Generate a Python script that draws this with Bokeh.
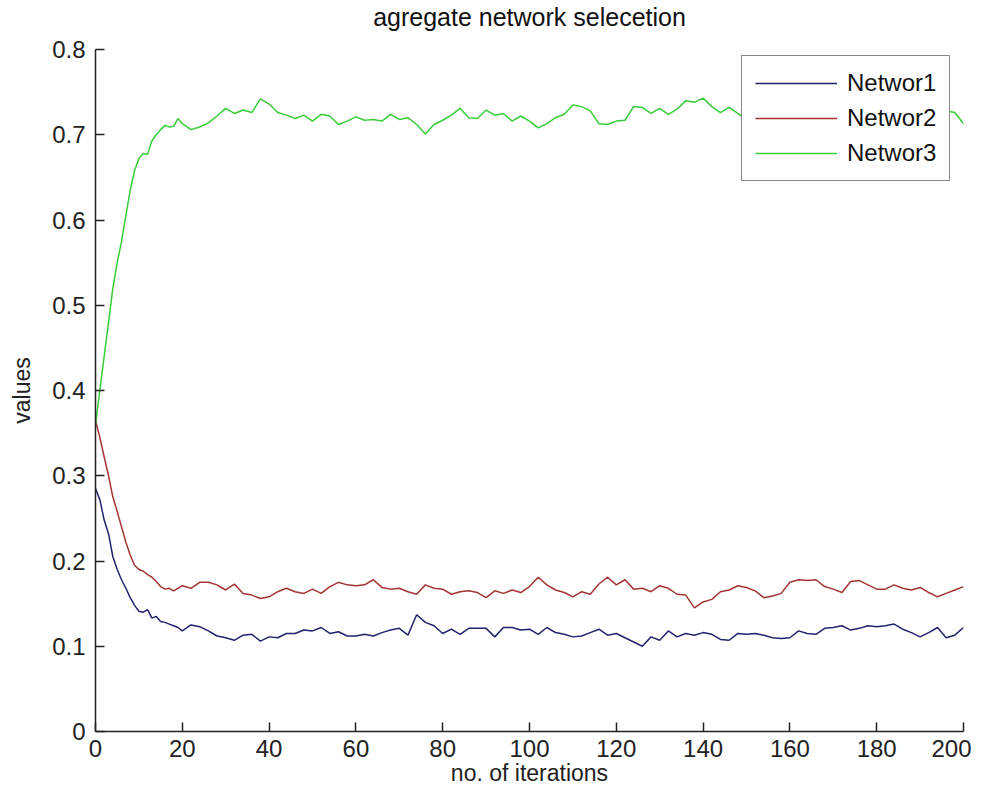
from bokeh.plotting import figure
from bokeh.embed import file_html
from bokeh.resources import INLINE
from bokeh.models import FixedTicker, Legend, LegendItem, Title

iterations = list(range(0, 20)) + list(range(20, 201, 2))

networ1 = [0.285, 0.272, 0.248, 0.232, 0.205, 0.190, 0.178, 0.168, 0.157, 0.148,
           0.141, 0.140, 0.143, 0.133, 0.135, 0.129, 0.128, 0.126, 0.124, 0.122,
           0.118, 0.125, 0.123, 0.118, 0.112, 0.110, 0.107, 0.113, 0.114, 0.106,
           0.111, 0.110, 0.115, 0.115, 0.119, 0.118, 0.122, 0.115, 0.117, 0.112,
           0.112, 0.114, 0.112, 0.116, 0.119, 0.121, 0.113, 0.137, 0.128, 0.124,
           0.115, 0.120, 0.114, 0.121, 0.121, 0.121, 0.111, 0.122, 0.122, 0.119,
           0.120, 0.114, 0.122, 0.116, 0.114, 0.111, 0.112, 0.116, 0.120, 0.113,
           0.115, 0.110, 0.105, 0.100, 0.111, 0.107, 0.118, 0.111, 0.115, 0.113,
           0.116, 0.114, 0.108, 0.107, 0.115, 0.114, 0.115, 0.113, 0.110, 0.109,
           0.110, 0.118, 0.115, 0.114, 0.121, 0.122, 0.124, 0.119, 0.121, 0.124,
           0.123, 0.124, 0.126, 0.120, 0.116, 0.111, 0.116, 0.122, 0.110, 0.113,
           0.122]

networ2 = [0.365, 0.345, 0.322, 0.300, 0.275, 0.258, 0.240, 0.222, 0.207, 0.195,
           0.190, 0.188, 0.184, 0.181, 0.176, 0.170, 0.167, 0.168, 0.165, 0.168,
           0.171, 0.168, 0.175, 0.175, 0.172, 0.166, 0.173, 0.162, 0.160, 0.156,
           0.158, 0.164, 0.168, 0.164, 0.162, 0.167, 0.162, 0.170, 0.175, 0.172,
           0.171, 0.172, 0.178, 0.169, 0.167, 0.168, 0.164, 0.161, 0.172, 0.168,
           0.167, 0.161, 0.164, 0.165, 0.163, 0.157, 0.165, 0.162, 0.166, 0.163,
           0.170, 0.181, 0.172, 0.166, 0.163, 0.158, 0.164, 0.161, 0.173, 0.181,
           0.172, 0.178, 0.167, 0.168, 0.164, 0.171, 0.168, 0.161, 0.160, 0.145,
           0.152, 0.155, 0.164, 0.166, 0.171, 0.169, 0.165, 0.157, 0.159, 0.162,
           0.175, 0.178, 0.177, 0.178, 0.170, 0.167, 0.163, 0.176, 0.177, 0.172,
           0.167, 0.167, 0.172, 0.168, 0.166, 0.169, 0.163, 0.158, 0.162, 0.166,
           0.170]

networ3 = [0.360, 0.400, 0.440, 0.480, 0.520, 0.550, 0.575, 0.605, 0.635, 0.658,
           0.672, 0.678, 0.677, 0.693, 0.700, 0.706, 0.711, 0.709, 0.710, 0.719,
           0.713, 0.706, 0.709, 0.714, 0.722, 0.731, 0.725, 0.729, 0.726, 0.742,
           0.736, 0.726, 0.723, 0.719, 0.723, 0.716, 0.724, 0.722, 0.712, 0.716,
           0.721, 0.717, 0.718, 0.716, 0.724, 0.718, 0.720, 0.712, 0.701, 0.712,
           0.717, 0.723, 0.731, 0.720, 0.719, 0.729, 0.723, 0.725, 0.716, 0.722,
           0.716, 0.708, 0.713, 0.720, 0.724, 0.735, 0.733, 0.728, 0.713, 0.712,
           0.716, 0.717, 0.733, 0.732, 0.725, 0.731, 0.724, 0.730, 0.740, 0.738,
           0.743, 0.733, 0.726, 0.732, 0.725,
           0.717, 0.720, 0.730, 0.731, 0.729, 0.715, 0.704, 0.708, 0.708, 0.709,
           0.711, 0.713, 0.705, 0.702, 0.704, 0.710, 0.709, 0.702, 0.712, 0.718,
           0.720, 0.721, 0.720, 0.728,
           0.726, 0.713]

series_names = ["Networ1", "Networ2", "Networ3"]
x_ticks = [0, 20, 40, 60, 80, 100, 120, 140, 160, 180, 200]
y_ticks = [0, 0.1, 0.2, 0.3, 0.4, 0.5, 0.6, 0.7, 0.8]
y_tick_labels = ["0", "0.1", "0.2", "0.3", "0.4", "0.5", "0.6", "0.7", "0.8"]
title_text = "agregate network selecetion"

FONT = "Liberation Sans"
FS = "24px"

p = figure(width=971, height=788, output_backend="svg", toolbar_location=None,
           x_range=(0, 200), y_range=(0, 0.8),
           min_border_left=95, min_border_right=8,
           min_border_top=49, min_border_bottom=55)

# spacer (closest to the frame), then the real title above it
p.add_layout(Title(text=" ", text_font=FONT, text_font_size="15px", standoff=0), "above")
p.add_layout(Title(text=title_text, align="center", text_font=FONT, text_font_size="25px",
                   text_font_style="normal", text_color="#111111", standoff=0), "above")

p.grid.visible = False
p.outline_line_color = None
p.background_fill_color = "white"
p.border_fill_color = "white"

for ax in (p.xaxis[0], p.yaxis[0]):
    ax.major_tick_in = 9
    ax.major_tick_out = 0
    ax.minor_tick_in = 0
    ax.minor_tick_out = 0
    ax.axis_line_color = "#222222"
    ax.axis_line_width = 1.5
    ax.major_tick_line_color = "#222222"
    ax.major_tick_line_width = 1.5
    ax.major_label_text_font = FONT
    ax.major_label_text_font_size = FS
    ax.major_label_text_color = "#222222"
    ax.axis_label_text_font = FONT
    ax.axis_label_text_font_size = "23px"
    ax.axis_label_text_font_style = "normal"
    ax.axis_label_text_color = "#222222"

p.xaxis.ticker = FixedTicker(ticks=x_ticks)
p.yaxis.ticker = FixedTicker(ticks=y_ticks)
p.yaxis.major_label_overrides = {t: s for t, s in zip(y_ticks, y_tick_labels)}
p.xaxis.axis_label = "no. of iterations"
p.yaxis.axis_label = "values"
p.xaxis.major_label_standoff = 8
p.yaxis.major_label_standoff = 10
p.xaxis.axis_label_standoff = 0
p.yaxis.axis_label_standoff = 14

colors = ["#22236e", "#a33434", "#38cc38"]
r1 = p.line(iterations, networ1, line_color=colors[0], line_width=1.5)
r2 = p.line(iterations, networ2, line_color=colors[1], line_width=1.5)
r3 = p.line(iterations, networ3, line_color=colors[2], line_width=1.5)

legend = Legend(items=[LegendItem(label=n, renderers=[r]) for n, r in zip(series_names, [r1, r2, r3])],
                location=(646, 550),
                glyph_width=82, glyph_height=20, label_height=20,
                spacing=7, padding=13, label_standoff=10,
                label_text_font=FONT, label_text_font_size="24px",
                label_text_color="#111111",
                border_line_color="#111111", border_line_width=1.5,
                background_fill_color="white", background_fill_alpha=1.0)
p.add_layout(legend, "center")

open("out.html", "w").write(file_html(p, INLINE))
